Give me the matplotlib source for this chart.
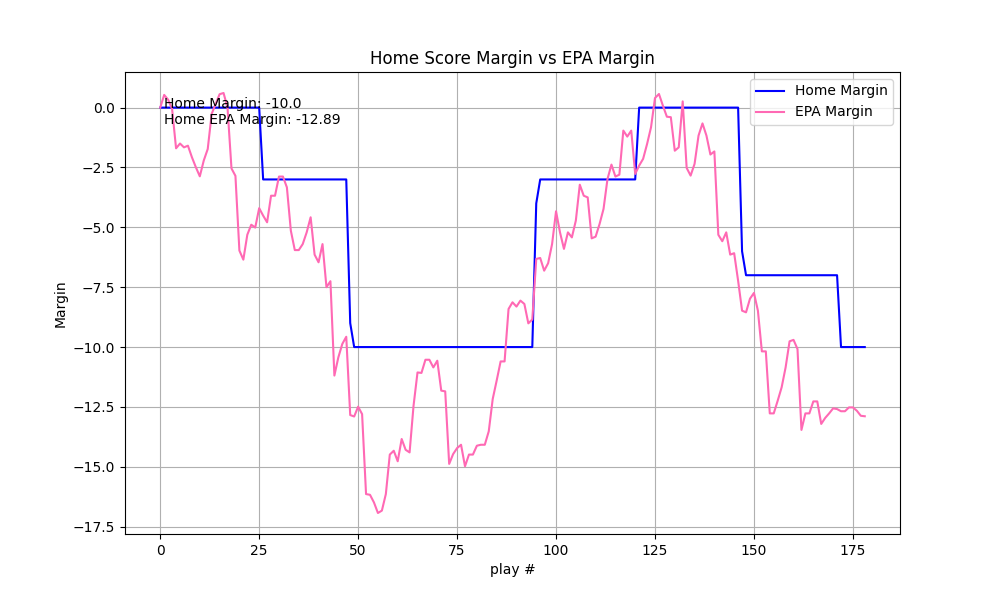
import matplotlib
matplotlib.use("Agg")
import matplotlib.pyplot as plt

# home score margin per play (step changes at scoring plays)
home_margin = (
    [0] * 26            # plays 0-25
    + [-3] * 22         # plays 26-47
    + [-9]              # play 48
    + [-10] * 46        # plays 49-94
    + [-4]              # play 95
    + [-3] * 25         # plays 96-120
    + [0] * 26          # plays 121-146
    + [-6]              # play 147
    + [-7] * 24         # plays 148-171
    + [-10] * 7         # plays 172-178
)

# EPA margin per play
epa_margin = [
    0.0, 0.53, 0.33, -0.06, -1.70, -1.50, -1.66, -1.59, -2.07, -2.49,
    -2.87, -2.21, -1.73, -0.26, 0.15, 0.56, 0.61, 0.0, -2.54, -2.85,
    -5.97, -6.35, -5.31, -4.89, -5.01, -4.20, -4.51, -4.79, -3.68, -3.68,
    -2.88, -2.88, -3.33, -5.14, -5.95, -5.95, -5.70, -5.21, -4.58, -6.14,
    -6.46, -5.70, -7.50, -7.25, -11.19, -10.43, -9.87, -9.57, -12.84, -12.90,
    -12.49, -12.80, -16.14, -16.17, -16.49, -16.93, -16.83, -16.14, -14.49, -14.33,
    -14.77, -13.84, -14.29, -14.40, -12.45, -11.06, -11.08, -10.53, -10.53, -10.85,
    -10.57, -11.82, -11.85, -14.88, -14.47, -14.22, -14.08, -14.98, -14.49, -14.49,
    -14.12, -14.08, -14.08, -13.52, -12.17, -11.40, -10.60, -10.60, -8.41, -8.13,
    -8.31, -8.06, -8.20, -9.01, -8.85, -6.32, -6.28, -6.81, -6.50, -5.70,
    -4.33, -5.21, -5.90, -5.21, -5.42, -4.72, -3.22, -3.68, -3.75, -5.46,
    -5.39, -4.86, -4.23, -2.98, -2.38, -2.88, -2.80, -0.96, -1.21, -0.96,
    -2.77, -2.42, -2.14, -1.52, -0.82, 0.40, 0.57, 0.08, -0.38, -0.40,
    -1.80, -1.66, 0.26, -2.52, -2.84, -2.35, -1.17, -0.66, -1.17, -1.96,
    -1.83, -5.31, -5.58, -5.21, -6.14, -6.08, -7.23, -8.48, -8.55, -7.98,
    -7.74, -8.48, -10.18, -10.18, -12.77, -12.77, -12.24, -11.68, -10.85, -9.76,
    -9.70, -10.08, -13.46, -12.77, -12.77, -12.27, -12.27, -13.21, -12.96, -12.77,
    -12.56, -12.59, -12.68, -12.68, -12.52, -12.52, -12.66, -12.87, -12.89,
]

plays = list(range(len(home_margin)))

fig, ax = plt.subplots(figsize=(10, 6), dpi=100)
ax.plot(plays, home_margin, color="blue", label="Home Margin")
ax.plot(plays, epa_margin, color="hotpink", label="EPA Margin")

# summary text in the top-left corner
ax.text(1, -0.68, f"Home Margin: {float(home_margin[-1])}\nHome EPA Margin: {epa_margin[-1]}",
        ha="left", va="baseline", fontsize=10)

ax.set_title("Home Score Margin vs EPA Margin")
ax.set_xlabel("play #")
ax.set_ylabel("Margin")
ax.grid(True)
ax.legend(loc="upper right")

fig.savefig("out.png")
